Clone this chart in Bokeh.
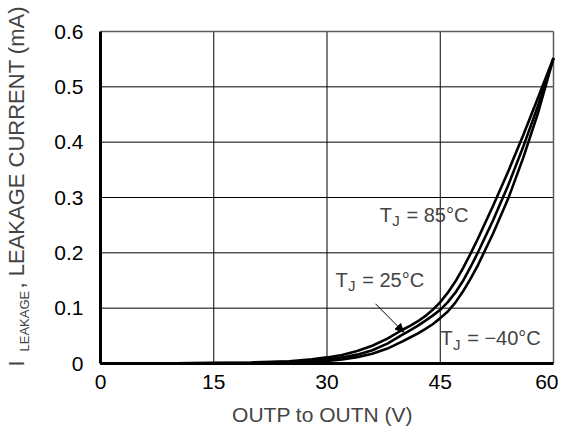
import math
from bokeh.plotting import figure
from bokeh.models import Range1d, FixedTicker, Label, Arrow, NormalHead
from bokeh.embed import file_html
from bokeh.resources import INLINE

# ---- data ----
volts = [0, 10, 20, 25, 28, 30, 32, 34, 36, 38, 40, 41, 42, 43, 44, 45, 46, 47, 48, 49, 50,
         52, 54, 56, 58, 60]
i_85 = [0, 0.0004, 0.0018, 0.004, 0.0075, 0.011, 0.0155, 0.0225, 0.032, 0.045, 0.061, 0.068,
        0.076, 0.0855, 0.097, 0.111, 0.128, 0.148, 0.172, 0.198, 0.226,
        0.285, 0.347, 0.413, 0.482, 0.552]
i_25 = [0, 0.0003, 0.0012, 0.003, 0.0052, 0.0075, 0.011, 0.016, 0.024, 0.036, 0.052, 0.060,
        0.068, 0.077, 0.0865, 0.097, 0.111, 0.128, 0.149, 0.174, 0.201,
        0.259, 0.322, 0.392, 0.468, 0.552]
i_m40 = [0, 0.0002, 0.0008, 0.0018, 0.003, 0.0045, 0.0072, 0.0115, 0.0175, 0.027, 0.040, 0.047,
         0.054, 0.062, 0.071, 0.082, 0.094, 0.110, 0.130, 0.153, 0.178,
         0.235, 0.298, 0.372, 0.455, 0.552]
x_ticks = [0, 15, 30, 45, 60]
y_ticks = [0, 0.1, 0.2, 0.3, 0.4, 0.5, 0.6]
y_tick_labels = {0: "0", 0.1: "0.1", 0.2: "0.2", 0.3: "0.3", 0.4: "0.4", 0.5: "0.5", 0.6: "0.6"}

FONT = "Liberation Sans"
W, H = 558, 427
# pixel box of the data area inside the canvas
BL, BR, BT, BB = 100, 553, 31, 363
X0, X1 = x_ticks[0], x_ticks[-1]
Y0, Y1 = y_ticks[0], y_ticks[-1]
SHIFT = 0.45  # empirical baseline correction, in em

def px2x(px):
    return X0 + (px - BL) * (X1 - X0) / (BR - BL)

def px2y(py):
    return Y0 + (BB - py) * (Y1 - Y0) / (BB - BT)

p = figure(width=W, height=H, output_backend="svg", toolbar_location=None,
           x_range=Range1d(px2x(0), px2x(W)), y_range=Range1d(px2y(H), px2y(0)),
           min_border=0)
p.title.visible = False
p.background_fill_color = "white"
p.border_fill_color = "white"
p.outline_line_color = None
p.xgrid.visible = False
p.ygrid.visible = False

# grid lines and top/right border, from the tick lists
inner_x = x_ticks[1:-1]
inner_y = y_ticks[1:-1]
p.segment(x0=inner_x, y0=[Y0] * len(inner_x), x1=inner_x, y1=[Y1] * len(inner_x),
          line_color="black", line_width=1)
p.segment(x0=[X0] * len(inner_y), y0=inner_y, x1=[X1] * len(inner_y), y1=inner_y,
          line_color="black", line_width=1)
p.segment(x0=[X0, X1], y0=[Y1, Y0], x1=[X1, X1], y1=[Y1, Y1],
          line_color="#5a5a5a", line_width=1.5)

for ys in (i_85, i_25, i_m40):
    p.line(volts, ys, line_color="black", line_width=2.6)

# axes pinned to the data box
p.xaxis.fixed_location = Y0
p.xaxis.bounds = (X0, X1)
p.yaxis.fixed_location = X0
p.yaxis.bounds = (Y0, Y1)
for ax, ticks in ((p.xaxis, x_ticks), (p.yaxis, y_ticks)):
    ax.ticker = FixedTicker(ticks=ticks)
    ax.axis_line_color = "black"
    ax.axis_line_width = 3
    ax.major_tick_line_color = None
    ax.minor_tick_line_color = None
    ax.major_tick_out = 0
    ax.major_tick_in = 0
    ax.major_label_text_font = FONT
    ax.major_label_text_font_size = "21px"
    ax.major_label_text_color = "black"
p.yaxis.major_label_overrides = y_tick_labels
p.yaxis.major_label_standoff = 17
p.xaxis.major_label_standoff = 11

def hlabel(px, py, text, size, align="left"):
    p.add_layout(Label(x=px2x(px), y=px2y(py - SHIFT * size), text=text, text_font=FONT,
                       text_font_size=f"{size}px", text_baseline="alphabetic",
                       text_align=align))

def vlabel(px, py, text, size):
    p.add_layout(Label(x=px2x(px - SHIFT * size), y=px2y(py), text=text, angle=math.pi / 2,
                       text_font=FONT, text_font_size=f"{size}px", text_align="left",
                       text_baseline="alphabetic"))

# ---- curve labels with subscripts ----
def tj_label(px, py, rest):
    hlabel(px, py, "T", 20)
    hlabel(px + 12.4, py + 3.7, "J", 15)
    hlabel(px + 26.7, py, rest, 20)

tj_label(379.3, 223, "= 85°C")
tj_label(335, 288, "= 25°C")
tj_label(440, 346.7, "= \u221240°C")

p.add_layout(Arrow(end=NormalHead(size=8, fill_color="black", line_color="black"),
                   x_start=px2x(375), y_start=px2y(303.3),
                   x_end=px2x(403), y_end=px2y(331.5),
                   line_color="black", line_width=1))

# ---- axis titles ----
hlabel(322, 423, "OUTP to OUTN (V)", 21, align="center")
vlabel(26, 366, "I", 22)
vlabel(29.5, 351, "LEAKAGE", 13)
vlabel(26, 288, ", LEAKAGE CURRENT (mA)", 22)

open("out.html", "w").write(file_html(p, INLINE))
